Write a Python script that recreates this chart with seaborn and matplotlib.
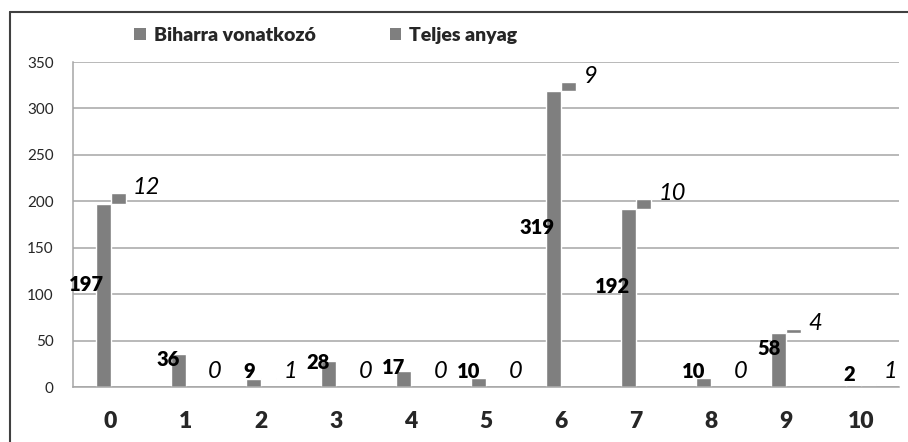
import pandas as pd
import seaborn as sns
import matplotlib.pyplot as plt
from matplotlib.patches import Patch
from matplotlib.lines import Line2D

# chart data
categories = [str(i) for i in range(11)]
bihar = [197, 36, 9, 28, 17, 10, 319, 192, 10, 58, 2]
teljes = [12, 0, 1, 0, 0, 0, 9, 10, 0, 4, 1]
series_names = ["Biharra vonatkozó", "Teljes anyag"]
y_ticks = [0, 50, 100, 150, 200, 250, 300, 350]

sns.set_style("white")
plt.rcParams["font.family"] = ["Lato", "DejaVu Sans"]

df = pd.DataFrame({
    "cat": categories * 2,
    "value": bihar + teljes,
    "series": [series_names[0]] * len(bihar) + [series_names[1]] * len(teljes),
})

gray = "#7f7f7f"
grid_gray = "#a6a6a6"

fig = plt.figure(figsize=(9.08, 4.42), dpi=100)
ax = fig.add_axes([0.0804, 0.1244, 0.9096, 0.7353])

sns.barplot(data=df, x="cat", y="value", hue="series", hue_order=series_names,
            palette=[gray, gray], width=0.4, dodge=True, saturation=1,
            errorbar=None, legend=False, ax=ax)

# second series sits on top of the first one (stacked, but shifted right)
for patch, base in zip(ax.containers[1], bihar):
    patch.set_y(base)

ax.set_xlim(-0.5, 10.5)
ax.set_ylim(0, 350)
ax.set_yticks(y_ticks)
ax.set_xlabel("")
ax.set_ylabel("")
ax.yaxis.grid(True, color=grid_gray, linewidth=1.1)
ax.set_axisbelow(True)
for side in ["top", "right"]:
    ax.spines[side].set_visible(False)
for side in ["left", "bottom"]:
    ax.spines[side].set_color(grid_gray)
    ax.spines[side].set_linewidth(1.1)

ax.tick_params(axis="y", length=0, pad=14, labelsize=11)
ax.tick_params(axis="x", length=0, pad=17, labelsize=16.5)
for lbl in ax.get_xticklabels():
    lbl.set_fontweight("heavy")

# data labels
for i, v in enumerate(bihar):
    ax.text(i - 0.08, v / 2 + 12, str(v), ha="right", va="center",
            fontsize=14.5, fontweight="heavy", color="black")
for i, (b, t) in enumerate(zip(bihar, teljes)):
    top = b + t
    y = top + 6 if top > 50 else 17
    ax.text(i + 0.3, y, str(t), ha="left", va="center",
            fontsize=17, fontstyle="italic", color="black")

# legend
handles = [Patch(facecolor=gray, edgecolor="none") for _ in series_names]
fig.legend(handles, series_names, loc="center left", bbox_to_anchor=(0.148, 0.92),
           ncol=2, frameon=False, handlelength=0.6, handleheight=0.6,
           handletextpad=0.4, columnspacing=3.8, borderpad=0, borderaxespad=0,
           prop={"weight": "heavy", "size": 14})

# outer frame (only top and left edges are visible)
fx = 10 / 908
fy = 1 - 12 / 442
fig.add_artist(Line2D([fx, fx], [0, fy], color="#404040", linewidth=1.5, transform=fig.transFigure))
fig.add_artist(Line2D([fx, 1], [fy, fy], color="#404040", linewidth=1.5, transform=fig.transFigure))

fig.savefig("out.png", dpi=100)
